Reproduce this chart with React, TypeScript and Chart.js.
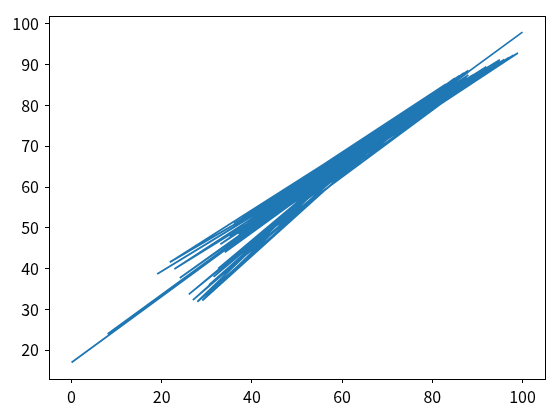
import React, { useEffect, useRef } from "react";
import { Chart, registerables } from "chart.js";

Chart.register(...registerables);

// Sequence of (x, y) points, in drawing order
const xs: number[] = [
  0, 100, 45, 99, 19, 70, 8, 85, 21.8, 62, 29, 72, 26.9, 66, 22.8, 58, 27.9, 75, 26, 68,
  24, 88, 40, 97, 35, 93, 32.5, 60, 33, 80, 37, 90, 43, 78, 30.5, 64, 46, 95, 41, 87.6,
  38, 73, 48, 96, 44, 82, 36, 63, 50, 92, 42, 77, 55, 86, 39, 74, 34, 67, 52, 89,
  47, 71, 31.5, 61, 49, 94, 53, 83, 57, 98, 56, 79,
  86, 52, 88, 45, 83, 58, 81, 50, 76, 54, 87, 60, 79, 48, 84, 65, 78, 44, 85, 56, 82, 62, 80,
  87, 55, 84, 62, 80, 50, 86, 66, 72, 58, 87.5, 53, 82, 68, 85, 60, 77, 64, 88, 57, 83,
  40, 90, 47, 85, 36, 70, 55, 95, 44, 78, 52, 92, 62, 38, 81, 58, 65, 49, 75,
];
const ys: number[] = [
  17, 98, 53.5, 92.9, 38.7, 73, 24, 86, 41.6, 67.5, 32.2, 75, 32.3, 71, 39.9, 64, 31.9, 77.5, 33.7, 72.5,
  37.7, 87.5, 52, 91.8, 48, 89.5, 40, 65.5, 46, 82, 48.5, 88, 55.5, 79, 36, 69, 52.2, 90.8, 50, 87,
  45, 76, 58, 91.3, 53, 84, 46, 67, 59.5, 89, 54.5, 79.5, 63, 85.5, 51.5, 77, 44, 70.5, 60.5, 87.5,
  57.5, 74.5, 38, 65.8, 56.5, 90, 61, 83.5, 65, 92.3, 62.5, 81.5,
  86.8, 59, 88.2, 55.5, 84.3, 63.5, 82.8, 57.8, 78.5, 61.5, 87.5, 66, 81, 56, 85, 69.5, 80.3, 54, 86, 62, 83.8, 67.5, 82.2,
  88, 62, 85.8, 68, 82.6, 59.5, 87.3, 71.4, 76, 64.6, 88.2, 60.6, 84.4, 72.8, 86.7, 66.6, 80.3, 69.8, 88.6, 64, 85.2,
  54, 88, 58.5, 85.5, 51, 74.5, 63.5, 91.2, 56.5, 80.5, 61.5, 89.5, 68.3, 52.5, 82.5, 65.5, 70.2, 59.5, 77.5,
];

const xTickValues: number[] = [0, 20, 40, 60, 80, 100];
const yTickValues: number[] = [20, 30, 40, 50, 60, 70, 80, 90, 100];

const FONT = "'Noto Sans CJK KR', 'Noto Sans', sans-serif";

export default function App() {
  const ref = useRef<HTMLCanvasElement>(null);
  useEffect(() => {
    if (!ref.current) return;
    const frame = {
      id: "frame",
      afterDatasetsDraw(chart: any) {
        const { ctx, chartArea } = chart;
        ctx.save();
        ctx.strokeStyle = "#000";
        ctx.lineWidth = 1;
        ctx.strokeRect(
          Math.round(chartArea.left) + 0.5,
          Math.round(chartArea.top) + 0.5,
          Math.round(chartArea.right - chartArea.left),
          Math.round(chartArea.bottom - chartArea.top)
        );
        ctx.restore();
      },
    };
    const data = xs.map((x, i) => ({ x, y: ys[i] }));
    const chart = new Chart(ref.current, {
      type: "line",
      data: {
        datasets: [
          {
            data,
            borderColor: "#1f77b4",
            borderWidth: 1.8,
            pointRadius: 0,
            tension: 0,
            fill: false,
          },
        ],
      },
      options: {
        responsive: false,
        animation: false,
        devicePixelRatio: 1,
        layout: { padding: { top: 10, right: 10, left: 0, bottom: 0 } },
        plugins: { legend: { display: false }, tooltip: { enabled: false } },
        scales: {
          x: {
            type: "linear",
            min: -5,
            max: 105,
            afterBuildTicks: (s: any) => {
              s.ticks = xTickValues.map((v) => ({ value: v }));
            },
            afterFit: (s: any) => {
              s.height = 38;
            },
            grid: { drawOnChartArea: false, tickLength: 4, tickColor: "#000", tickWidth: 1 },
            border: { display: false },
            ticks: { color: "#000", font: { family: FONT, size: 16 }, padding: 4, maxRotation: 0 },
          },
          y: {
            type: "linear",
            min: 12.95,
            max: 102.05,
            afterBuildTicks: (s: any) => {
              s.ticks = yTickValues.map((v) => ({ value: v }));
            },
            afterFit: (s: any) => {
              s.width = 49;
            },
            grid: { drawOnChartArea: false, tickLength: 4, tickColor: "#000", tickWidth: 1 },
            border: { display: false },
            ticks: { color: "#000", font: { family: FONT, size: 16 }, padding: 6 },
          },
        },
      },
      plugins: [frame],
    });
    return () => chart.destroy();
  }, []);
  return (
    <div style={{ position: "fixed", left: 0, top: 0, width: 555, height: 417, background: "#fff" }}>
      <canvas ref={ref} width={555} height={417} />
    </div>
  );
}
